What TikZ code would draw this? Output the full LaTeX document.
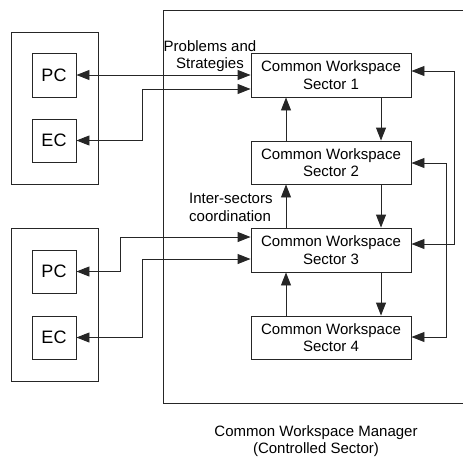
\documentclass[tikz,border=0pt]{standalone}
\usepackage{fontspec}
\setmainfont{Liberation Sans}
\usetikzlibrary{arrows.meta}
\begin{document}
\begin{tikzpicture}[x=1pt,y=-1pt,
  every node/.style={font=\fontsize{15}{17.5}\selectfont},
  box/.style={draw=black!85,line width=0.9pt,inner sep=0pt,rectangle},
  sector/.style={box,minimum width=160pt,minimum height=44pt,align=center},
  ctrl/.style={box,minimum width=44pt,minimum height=44pt,font=\fontsize{18}{20}\selectfont},
  conn/.style={draw=black!85,line width=0.9pt},
  tip/.style={-{Triangle[length=13pt,width=10pt]}},
  tips/.style={{Triangle[length=13pt,width=10pt]}-{Triangle[length=13pt,width=10pt]}}]
\useasboundingbox (0,0) rectangle (463,458);
% containers
\node[box,minimum width=87pt,minimum height=152pt] (left1) at (54.5,108) {};
\node[box,minimum width=87pt,minimum height=153pt] (left2) at (54.5,304.5) {};
\draw[conn] (470,10) -- (163,10) -- (163,403) -- (470,403);
% controllers
\node[ctrl] (pc1) at (54,75) {PC};
\node[ctrl,minimum height=43pt] (ec1) at (54,140.5) {EC};
\node[ctrl,minimum height=43pt] (pc2) at (54,271.5) {PC};
\node[ctrl,minimum height=43pt] (ec2) at (54,337.5) {EC};
% sectors
\node[sector] (s1) at (331,75) {Common Workspace\\Sector 1};
\node[sector,minimum height=43pt] (s2) at (331,162.5) {Common Workspace\\Sector 2};
\node[sector] (s3) at (331,250) {Common Workspace\\Sector 3};
\node[sector,minimum height=43pt] (s4) at (331,337.5) {Common Workspace\\Sector 4};
% labels
\node[align=center,inner sep=0pt] (lab1) at (210,56) {Problems and\\Strategies};
\node[align=left,anchor=west,inner sep=0pt] (lab2) at (189,207.5) {Inter-sectors\\coordination};
\node[align=center,inner sep=0pt] (lab3) at (316,441) {Common Workspace Manager\\(Controlled Sector)};
% controller connections
\draw[conn,tips] (pc1.east) -- (s1.west |- 0,75);
\draw[conn,tips] (ec1.east) -| (142,89) -- (s1.west |- 0,89);
\draw[conn,tips] (pc2.east) -| (120,237) -- (s3.west |- 0,237);
\draw[conn,tips] (ec2.east) -| (142,259) -- (s3.west |- 0,259);
% vertical connections
\draw[conn,tip] (s2.north -| 286,0) -- (s1.south -| 286,0);
\draw[conn,tip] (s1.south -| 381,0) -- (s2.north -| 381,0);
\draw[conn,tip] (s3.north -| 286,0) -- (s2.south -| 286,0);
\draw[conn,tip] (s2.south -| 381,0) -- (s3.north -| 381,0);
\draw[conn,tip] (s4.north -| 286,0) -- (s3.south -| 286,0);
\draw[conn,tip] (s3.south -| 381,0) -- (s4.north -| 381,0);
% right loops
\draw[conn,tips] (s1.east |- 0,71) -| (454,244) -- (s3.east |- 0,244);
\draw[conn,tips] (s2.east |- 0,163) -| (446,337) -- (s4.east |- 0,337);
\end{tikzpicture}
\end{document}
